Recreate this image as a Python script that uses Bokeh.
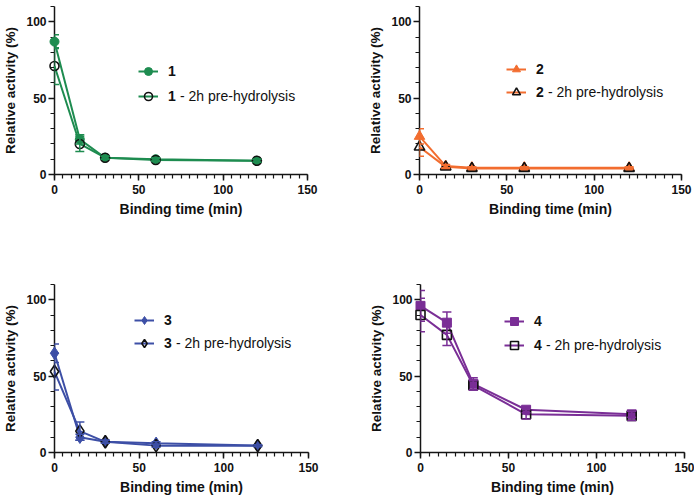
from bokeh.plotting import figure
from bokeh.models import (ColumnDataSource, Whisker, TeeHead, Range1d,
                          SingleIntervalTicker, Legend, LegendItem)
from bokeh.layouts import column, row
from bokeh.embed import file_html
from bokeh.resources import INLINE

# ---------------- data ----------------
binding_time = [0, 15, 30, 60, 120]

c1 = [87, 23, 11, 10, 9]
c1_err = [4.5, 3, 1, 1, 1]
c1_pre = [71, 20, 11, 9.5, 9]
c1_pre_err = [12, 5, 1, 1, 1]

c2 = [25, 5.5, 4.5, 4.5, 4.5]
c2_err = [5, 1, 0.5, 0.5, 0.5]
c2_pre = [18, 5, 4, 4, 4]
c2_pre_err = [6, 1, 0.5, 0.5, 0.5]

c3 = [65, 10, 7, 6, 4.5]
c3_err = [6, 2, 1, 1, 0.5]
c3_pre = [53, 14, 7, 4.5, 4.5]
c3_pre_err = [12, 6, 1, 1, 0.5]

c4 = [96, 85, 45, 28, 25]
c4_err = [10, 7, 4, 2, 2]
c4_pre = [90, 77, 44, 25, 24]
c4_pre_err = [11, 7, 3, 3, 3]

compound_names = ["1", "2", "3", "4"]
pre_suffix = "- 2h pre-hydrolysis"
x_label = "Binding time (min)"
y_label = "Relative activity (%)"

FONT = "Liberation Sans"
AX = "#151515"
TXT = "#111111"


def style_axis(ax, standoff, label_standoff, label_size):
    ax.axis_line_width = 1.5
    ax.axis_line_color = AX
    ax.major_tick_line_width = 1.5
    ax.major_tick_line_color = AX
    ax.minor_tick_line_width = 1.2
    ax.minor_tick_line_color = AX
    ax.major_tick_out = 6
    ax.major_tick_in = 0
    ax.minor_tick_out = 4
    ax.minor_tick_in = 0
    ax.major_label_text_font = FONT
    ax.major_label_text_font_size = "12px"
    ax.major_label_text_font_style = "bold"
    ax.major_label_text_color = TXT
    ax.major_label_standoff = standoff
    ax.axis_label_text_font = FONT
    ax.axis_label_text_font_size = label_size
    ax.axis_label_text_font_style = "bold"
    ax.axis_label_text_color = TXT
    ax.axis_label_standoff = label_standoff


def panel(W, H, L, R, T, B, name, y, yerr, ypre, yprerr, color, marker, size,
          legloc, spacing):
    p = figure(width=W, height=H, output_backend="svg", toolbar_location=None,
               x_range=Range1d(0, 150), y_range=Range1d(0, 110),
               min_border_left=L, min_border_right=R,
               min_border_top=T, min_border_bottom=B)
    p.outline_line_color = None
    p.xgrid.visible = False
    p.ygrid.visible = False

    xa = p.xaxis[0]
    xa.ticker = SingleIntervalTicker(interval=50, num_minor_ticks=10)
    xa.axis_label = x_label
    style_axis(xa, 4, 4, "14px")
    ya = p.yaxis[0]
    ya.ticker = SingleIntervalTicker(interval=50, num_minor_ticks=5)
    ya.axis_label = y_label
    style_axis(ya, 2, 5, "13.5px")

    src = ColumnDataSource(dict(x=binding_time, y=y,
                                lo=[a - b for a, b in zip(y, yerr)],
                                hi=[a + b for a, b in zip(y, yerr)]))
    srcp = ColumnDataSource(dict(x=binding_time, y=ypre,
                                 lo=[a - b for a, b in zip(ypre, yprerr)],
                                 hi=[a + b for a, b in zip(ypre, yprerr)]))

    renderers = []
    for s, hollow in ((src, False), (srcp, True)):
        w = Whisker(source=s, base="x", upper="hi", lower="lo", level="annotation",
                    line_color=color, line_width=1.5,
                    upper_head=TeeHead(size=9, line_color=color, line_width=1.5),
                    lower_head=TeeHead(size=9, line_color=color, line_width=1.5))
        p.add_layout(w)
        ln = p.line("x", "y", source=s, line_color=color, line_width=2,
                    level="annotation")
        if hollow:
            sc = p.scatter("x", "y", source=s, marker=marker, size=size,
                           fill_alpha=0, line_color="#111111", line_width=1.6,
                           level="annotation")
        else:
            sc = p.scatter("x", "y", source=s, marker=marker, size=size,
                           fill_color=color, line_color=color, line_width=1,
                           level="annotation")
        renderers.append((ln, sc))

    common = dict(orientation="vertical", padding=0, margin=0, spacing=spacing,
                  glyph_height=20, label_height=20,
                  label_text_font=FONT, label_text_font_size="14px",
                  label_text_color=TXT,
                  background_fill_alpha=0, border_line_alpha=0)
    legA = Legend(items=[LegendItem(label=name, renderers=list(renderers[0])),
                         LegendItem(label=name, renderers=list(renderers[1]))],
                  location=legloc, glyph_width=20, label_standoff=10,
                  label_text_font_style="bold", **common)
    p.add_layout(legA)
    dummy = p.line(x=[], y=[], line_alpha=0)
    legB = Legend(items=[LegendItem(label=pre_suffix, renderers=[dummy])],
                  location=(legloc[0] + 42, legloc[1]), glyph_width=0,
                  label_standoff=0, label_text_font_style="normal", **common)
    p.add_layout(legB)
    return p


GREEN = "#1e8c50"
ORANGE = "#f26d2f"
BLUE = "#3d4fa6"
PURPLE = "#7a2e96"

p1 = panel(347, 250, 49, 40, 6, 74, compound_names[0], c1, c1_err, c1_pre, c1_pre_err,
           GREEN, "circle", 9, (84, 68), 5)
p2 = panel(347, 250, 72, 13, 1, 76, compound_names[1], c2, c2_err, c2_pre, c2_pre_err,
           ORANGE, "triangle", 10.5, (87, 72), 3)
p3 = panel(347, 249, 50, 39, 34, 46, compound_names[2], c3, c3_err, c3_pre, c3_pre_err,
           BLUE, "diamond", 12.5, (80, 99), 3)
p4 = panel(347, 249, 73, 10, 29, 47, compound_names[3], c4, c4_err, c4_pre, c4_pre_err,
           PURPLE, "square", 9, (84, 97), 4)

layout = column(row(p1, p2, spacing=0), row(p3, p4, spacing=0), spacing=0)
open("out.html", "w").write(file_html(layout, INLINE))
